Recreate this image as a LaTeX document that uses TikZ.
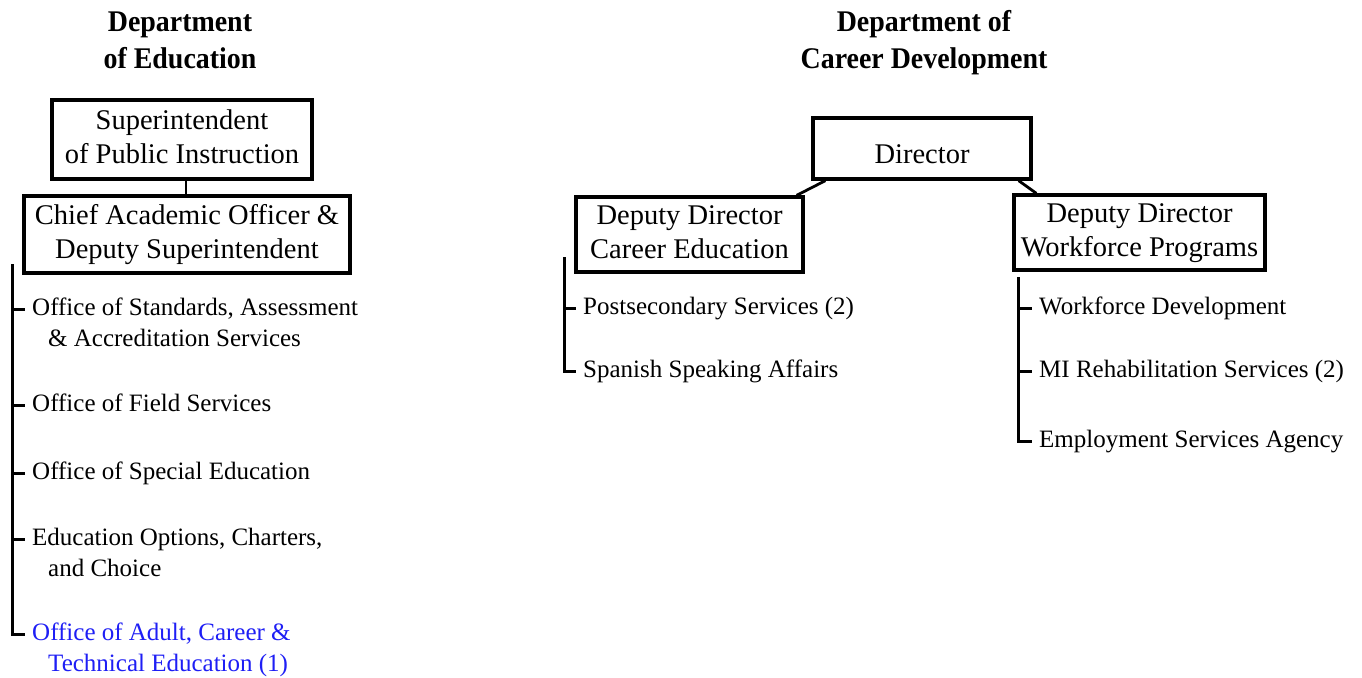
\documentclass[tikz,border=0pt]{standalone}
\usepackage{fontspec}
\setmainfont{Liberation Serif}
\newfontfamily\headfont{Liberation Serif}[FakeStretch=0.93]
\usetikzlibrary{calc}
\definecolor{linkblue}{RGB}{30,30,245}
\begin{document}
\begin{tikzpicture}[x=1pt,y=-1pt,
  heading/.style={align=center, inner sep=0pt, font=\headfont\bfseries\fontsize{30}{36}\selectfont},
  post/.style={draw, line width=3.3pt, inner sep=0pt, align=center, font=\fontsize{28.5}{34}\selectfont},
  unit/.style={anchor=base west, inner sep=0pt, align=left, font=\fontsize{25}{31}\selectfont},
  trunk/.style={line width=3pt},
  link/.style={line width=2.8pt}]
\useasboundingbox[fill=white] (0,0) rectangle (1362,677);

% department headings
\node[heading] (hdEdu) at (180,42.8) {\strut Department\\\strut of Education};
\node[heading] (hdCar) at (924,42.8) {\strut Department of\\\strut Career Development};

% Department of Education
\node[post, minimum width=260pt, minimum height=79pt] (sup) at (182,139.5)
  {\strut Superintendent\\\strut of Public Instruction};
\node[post, minimum width=326pt, minimum height=77pt] (chief) at (187,234.5)
  {\strut Chief Academic Officer \&\\\strut Deputy Superintendent};
\draw[link] ([xshift=4pt]sup.south) -- ([xshift=4pt]sup.south |- chief.north);

% two-line units sit on the baseline of their last line
\node[unit] (ed1) at (32,346) {Office of Standards, Assessment\\\hspace*{16pt}\& Accreditation Services};
\node[unit] (ed2) at (32,411) {Office of Field Services};
\node[unit] (ed3) at (32,479) {Office of Special Education};
\node[unit] (ed4) at (32,576) {Education Options, Charters,\\\hspace*{16pt}and Choice};
\node[unit, text=linkblue] (ed5) at (32,671) {Office of Adult, Career \&\\\hspace*{16pt}Technical Education (1)};

% Department of Career Development
\node[post, minimum width=218pt, minimum height=61pt, text height=29pt, text depth=0pt] (dir) at (922,148.5) {Director};
\node[post, minimum width=227pt, minimum height=75pt] (depce) at (689.5,234.5)
  {\strut Deputy Director\\\strut Career Education};
\node[post, minimum width=251pt, minimum height=75pt] (depwp) at (1139.5,232.5)
  {\strut Deputy Director\\\strut Workforce Programs};
\draw[link] ([xshift=14pt]dir.south west) -- ([xshift=-8pt]depce.north east);
\draw[link] ([xshift=-14pt]dir.south east) -- ([xshift=24pt]depwp.north west);

\node[unit] (ce1) at (583,314) {Postsecondary Services (2)};
\node[unit] (ce2) at (583,377) {Spanish Speaking Affairs};

\node[unit] (wp1) at (1039,314) {Workforce Development};
\node[unit] (wp2) at (1039,377) {MI Rehabilitation Services (2)};
\node[unit] (wp3) at (1039,447) {Employment Services Agency};

% list trunks and ticks (ticks meet the first line of each unit)
\coordinate (edTop) at (12,264);
\coordinate (ceTop) at (564,257);
\coordinate (wpTop) at (1018,277);
\foreach \n in {ed2,ed3,ce1,ce2,wp1,wp2,wp3}
  \coordinate (\n-t) at ($(\n.base west)+(-7,-6)$);
\foreach \n in {ed1,ed4,ed5}
  \coordinate (\n-t) at ($(\n.base west)+(-7,-37)$);

\draw[trunk] (edTop) |- (ed5-t);
\foreach \n in {ed1,ed2,ed3,ed4} \draw[trunk] (edTop |- \n-t) -- (\n-t);

\draw[trunk] (ceTop) |- (ce2-t);
\draw[trunk] (ceTop |- ce1-t) -- (ce1-t);

\draw[trunk] (wpTop) |- (wp3-t);
\foreach \n in {wp1,wp2} \draw[trunk] (wpTop |- \n-t) -- (\n-t);
\end{tikzpicture}
\end{document}
